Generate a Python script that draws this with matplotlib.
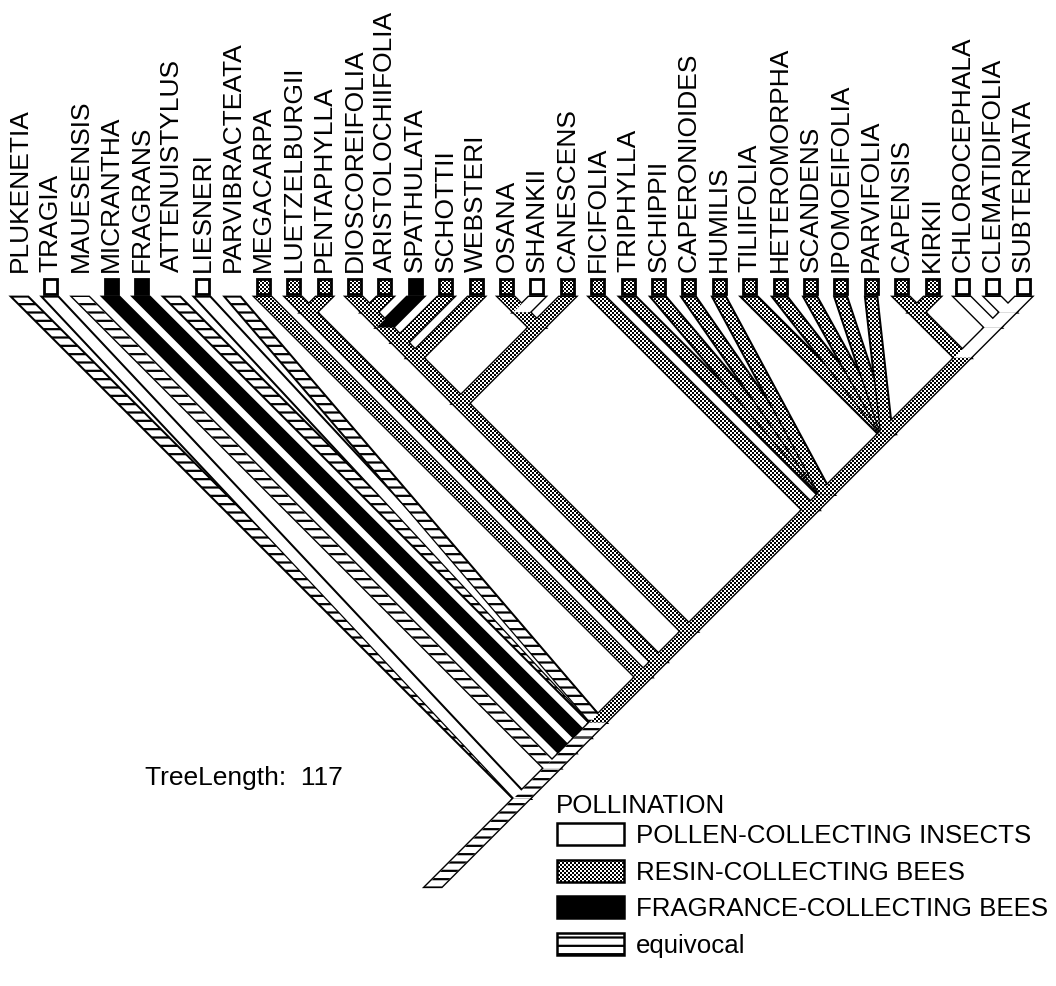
import matplotlib

matplotlib.use("Agg")
import matplotlib.pyplot as plt
import numpy as np
from matplotlib.patches import Polygon, Rectangle

plt.rcParams["font.family"] = ["Liberation Sans", "DejaVu Sans"]
plt.rcParams["hatch.linewidth"] = 1.6

# taxa in tip order, left to right
TAXA = [
    "PLUKENETIA", "TRAGIA", "MAUESENSIS", "MICRANTHA", "FRAGRANS",
    "ATTENUISTYLUS", "LIESNERI", "PARVIBRACTEATA", "MEGACARPA",
    "LUETZELBURGII", "PENTAPHYLLA", "DIOSCOREIFOLIA", "ARISTOLOCHIIFOLIA",
    "SPATHULATA", "SCHOTTII", "WEBSTERI", "OSANA", "SHANKII", "CANESCENS",
    "FICIFOLIA", "TRIPHYLLA", "SCHIPPII", "CAPERONIOIDES", "HUMILIS",
    "TILIIFOLIA", "HETEROMORPHA", "SCANDENS", "IPOMOEIFOLIA", "PARVIFOLIA",
    "CAPENSIS", "KIRKII", "CHLOROCEPHALA", "CLEMATIDIFOLIA", "SUBTERNATA",
]
# p = pollen-collecting insects, r = resin bees, f = fragrance bees, e = equivocal
TIP_STATES = [
    "e", "p", "e", "f", "f", "e", "p", "e", "r", "r", "r", "r", "r", "f",
    "r", "r", "r", "p", "r", "r", "r", "r", "r", "r", "r", "r", "r", "r",
    "r", "r", "r", "p", "p", "p",
]
# newick, label after ")" = state of the branch below that node
TOPOLOGY = (
    "(PLUKENETIA,TRAGIA,(MAUESENSIS,(MICRANTHA,(FRAGRANS,"
    "(ATTENUISTYLUS,LIESNERI,PARVIBRACTEATA,(MEGACARPA,"
    "((LUETZELBURGII,PENTAPHYLLA)r,"
    "((((((DIOSCOREIFOLIA,ARISTOLOCHIIFOLIA)r,SPATHULATA)r,SCHOTTII)r,WEBSTERI)r,"
    "((OSANA,SHANKII)r,CANESCENS)r)r,"
    "(FICIFOLIA,(TRIPHYLLA,SCHIPPII,CAPERONIOIDES,HUMILIS,"
    "(TILIIFOLIA,HETEROMORPHA,SCANDENS,IPOMOEIFOLIA,PARVIFOLIA,"
    "((CAPENSIS,KIRKII)r,(CHLOROCEPHALA,(CLEMATIDIFOLIA,SUBTERNATA)p)p)r)r)r)r)r"
    ")r)r)e)e)e)e)e"
)
TREE_LENGTH = 117
LEGEND_TITLE = "POLLINATION"
LEGEND_STATES = ["p", "r", "f", "e"]
LEGEND_LABELS = [
    "POLLEN-COLLECTING INSECTS",
    "RESIN-COLLECTING BEES",
    "FRAGRANCE-COLLECTING BEES",
    "equivocal",
]

W, H = 1056, 986
LEAF_X0, LEAF_DX = 20.0, 30.4
TIP_Y = 297.0
ROOT_STEM = 2.9  # in leaf spacings
HALF_PERP = 5.8  # half band thickness, measured across the band
OUTLINE_LW = 2.0
FS = 19
LEGEND_FS = 18.6

yy, xx = np.mgrid[0:H, 0:W]
CHECKER = ((yy // 2 + xx // 2) % 2).astype(float)


def leaf_x(i):
    return LEAF_X0 + LEAF_DX * i


def parse_newick(text):
    pos = 0

    def node():
        nonlocal pos
        if text[pos] == "(":
            pos += 1
            kids = [node()]
            while text[pos] == ",":
                pos += 1
                kids.append(node())
            pos += 1
            start = pos
            while pos < len(text) and text[pos] not in ",)":
                pos += 1
            return {"children": kids, "state": text[start:pos]}
        start = pos
        while pos < len(text) and text[pos] not in ",)":
            pos += 1
        return {"name": text[start:pos], "children": []}

    return node()


def layout(nd):
    if not nd["children"]:
        i = TAXA.index(nd["name"])
        nd["state"] = TIP_STATES[i]
        nd["lo"] = nd["hi"] = i
    else:
        for c in nd["children"]:
            layout(c)
        nd["lo"] = nd["children"][0]["lo"]
        nd["hi"] = nd["children"][-1]["hi"]
    xl, xr = leaf_x(nd["lo"]), leaf_x(nd["hi"])
    nd["x"] = (xl + xr) / 2
    nd["y"] = TIP_Y + (xr - xl) / 2


def collect(nd, out):
    k = len(nd["children"])
    for j, c in enumerate(nd["children"]):
        if j == k - 1:
            kind = "right"
        elif k > 2:
            kind = "fan"
        else:
            kind = "left"
        out.append((c["x"], c["y"], nd["x"], nd["y"], c["state"], kind))
        collect(c, out)


def band(cx, cy, px, py):
    length = np.hypot(px - cx, py - cy)
    hw = HALF_PERP * length / abs(py - cy)
    return [(cx - hw, cy), (cx + hw, cy), (px + hw, py), (px - hw, py)]


def checker_fill(ax, clip_patch, x0, x1, y0, y1, z):
    x0, x1 = max(int(np.floor(x0)), 0), min(int(np.ceil(x1)), W)
    y0, y1 = max(int(np.floor(y0)), 0), min(int(np.ceil(y1)), H)
    im = ax.imshow(CHECKER[y0:y1, x0:x1], cmap="gray", vmin=0, vmax=1,
                   extent=(x0, x1, y1, y0), interpolation="nearest", zorder=z)
    im.set_clip_path(clip_patch)


def fill_shape(ax, pts, state, z):
    if state == "r":
        clip = Polygon(pts, closed=True, transform=ax.transData)
        xs = [p[0] for p in pts]
        ys = [p[1] for p in pts]
        checker_fill(ax, clip, min(xs), max(xs), min(ys), max(ys), z)
    else:
        face = "black" if state == "f" else "white"
        ax.add_patch(Polygon(pts, closed=True, facecolor=face, edgecolor="black",
                             lw=0, hatch="--" if state == "e" else None, zorder=z))


tree = parse_newick(TOPOLOGY)
layout(tree)
branches = []
collect(tree, branches)
stem = ROOT_STEM * LEAF_DX
branches.append((tree["x"], tree["y"], tree["x"] - stem, tree["y"] + stem,
                 tree["state"], "right"))

fig = plt.figure(figsize=(W / 100, H / 100), dpi=100)
ax = fig.add_axes([0, 0, 1, 1])

# pass 1: outlines of every branch
for cx, cy, px, py, state, kind in branches:
    ax.add_patch(Polygon(band(cx, cy, px, py), closed=True, facecolor="none",
                         edgecolor="black", lw=OUTLINE_LW, joinstyle="miter", zorder=1))

# pass 2: fills, polytomy members first, backbone last
rank = {"fan": 0, "left": 1, "right": 2}
order = sorted(range(len(branches)),
               key=lambda k: (rank[branches[k][5]], branches[k][1], k))
for n, k in enumerate(order):
    cx, cy, px, py, state, kind = branches[k]
    z = 2 + 0.01 * n
    pts = band(cx, cy, px, py)
    fill_shape(ax, pts, state, z)
    if kind == "fan":
        ax.add_patch(Polygon(pts, closed=True, facecolor="none", edgecolor="black",
                             lw=0.9, zorder=z + 0.005))

# tip boxes and names
for i, (name, state) in enumerate(zip(TAXA, TIP_STATES)):
    x = leaf_x(i)
    if state != "e":
        x0, y0, bw, bh = x - 6.5, 279, 13, 15
        if state == "r":
            rect = Rectangle((x0, y0), bw, bh, transform=ax.transData)
            checker_fill(ax, rect, x0, x0 + bw, y0, y0 + bh, 8)
            face = "none"
        else:
            face = "black" if state == "f" else "white"
        ax.add_patch(Rectangle((x0, y0), bw, bh, facecolor=face, edgecolor="black",
                               lw=2.0, zorder=9))
    ax.text(x, 272, name, rotation=90, ha="center", va="bottom", fontsize=FS,
            zorder=10)

ax.text(145, 785, f"TreeLength:  {TREE_LENGTH}", fontsize=FS, va="baseline",
        ha="left")

# legend
ax.text(556, 813, LEGEND_TITLE, fontsize=LEGEND_FS, va="baseline", ha="left")
for k, (state, label) in enumerate(zip(LEGEND_STATES, LEGEND_LABELS)):
    y0 = 823 + 36.6 * k
    if state == "r":
        rect = Rectangle((557, y0), 67, 22, transform=ax.transData)
        checker_fill(ax, rect, 557, 624, y0, y0 + 22, 8)
        face = "none"
    else:
        face = "black" if state == "f" else "white"
    ax.add_patch(Rectangle((557, y0), 67, 22, facecolor=face, edgecolor="black",
                           lw=1.8, hatch="--" if state == "e" else None, zorder=9))
    ax.text(636, y0 + 20, label, fontsize=LEGEND_FS, va="baseline", ha="left")

ax.set_xlim(0, W)
ax.set_ylim(H, 0)
ax.set_aspect("auto")
ax.axis("off")

fig.savefig("out.png", dpi=100)
plt.close(fig)
